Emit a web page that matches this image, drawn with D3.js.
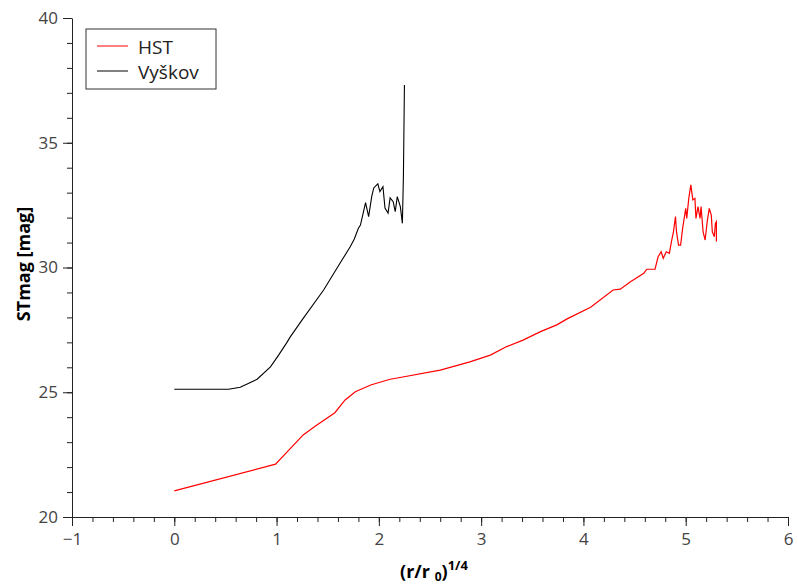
<!DOCTYPE html>
<html lang="en">
<head>
  <meta charset="UTF-8">
  <title>STmag profile</title>
  <script src="https://d3js.org/d3.v7.min.js"></script>
  <style>
    body { margin: 0; background: #fff; }
    .tick text { font-family: "Open Sans", sans-serif; font-size: 17px; fill: #444; }
    .axis path, .axis line { stroke: #222; }
  </style>
</head>
<body>
  <script>
    // data
    var hstX = [0.00, 0.99, 1.26, 1.38, 1.57, 1.67, 1.77, 1.92, 2.11, 2.18, 2.60, 2.89, 3.09, 3.25, 3.41, 3.58, 3.74, 3.84, 4.07, 4.29, 4.36, 4.46, 4.59, 4.62, 4.70, 4.73, 4.76, 4.78, 4.81, 4.84, 4.86, 4.88, 4.90, 4.91, 4.93, 4.95, 4.97, 5.00, 5.01, 5.03, 5.05, 5.07, 5.09, 5.10, 5.12, 5.14, 5.15, 5.17, 5.19, 5.21, 5.23, 5.25, 5.26, 5.28, 5.29, 5.30, 5.30]
    var hstY = [21.05, 22.12, 23.29, 23.65, 24.18, 24.69, 25.02, 25.29, 25.52, 25.57, 25.89, 26.22, 26.49, 26.83, 27.09, 27.43, 27.70, 27.94, 28.41, 29.10, 29.13, 29.43, 29.77, 29.93, 29.93, 30.43, 30.63, 30.37, 30.63, 30.57, 31.03, 31.43, 32.04, 31.43, 30.90, 30.90, 31.57, 32.37, 31.97, 32.77, 33.31, 32.71, 32.77, 31.97, 32.44, 31.97, 32.44, 31.43, 31.10, 31.84, 32.37, 32.10, 31.43, 31.23, 31.77, 31.84, 31.04]

    var vysX = [0.00, 0.53, 0.645, 0.81, 0.94, 1.02, 1.10, 1.134, 1.25, 1.46, 1.62, 1.72, 1.76, 1.80, 1.82, 1.85, 1.87, 1.90, 1.93, 1.95, 1.99, 2.01, 2.04, 2.06, 2.09, 2.11, 2.14, 2.16, 2.18, 2.21, 2.23, 2.24, 2.25]
    var vysY = [25.12, 25.12, 25.20, 25.52, 26.02, 26.49, 26.99, 27.22, 27.90, 29.10, 30.17, 30.83, 31.14, 31.57, 31.70, 32.24, 32.60, 32.04, 32.84, 33.19, 33.35, 33.04, 33.24, 32.38, 32.18, 32.79, 32.64, 32.24, 32.84, 32.44, 31.77, 33.64, 37.31]

    var seriesNames = ["HST", "Vyškov"]
    var seriesColors = ["#ff0000", "#000000"]
    var xTicks = [-1, 0, 1, 2, 3, 4, 5, 6]
    var yTicks = [20, 25, 30, 35, 40]

    var w = 798, h = 587
    var margin = { top: 18, right: 10, bottom: 70, left: 72 }
    var width = w - margin.left - margin.right
    var height = h - margin.top - margin.bottom

    var x = d3.scaleLinear().domain([-1, 6]).range([0, 716])
    var y = d3.scaleLinear().domain([20, 40]).range([height, 0])

    var svg = d3.select("body").append("svg")
      .attr("width", w)
      .attr("height", h)
      .append("g")
      .attr("transform", "translate(" + margin.left + "," + margin.top + ")")

    // minor ticks
    svg.append("g")
      .attr("class", "axis")
      .attr("transform", "translate(0," + height + ")")
      .call(d3.axisBottom(x).tickValues(d3.range(-1, 6.01, 0.2)).tickSize(5).tickFormat(""))
      .select(".domain").remove()
    svg.append("g")
      .attr("class", "axis")
      .call(d3.axisLeft(y).tickValues(d3.range(20, 40.01, 1)).tickSize(5).tickFormat(""))
      .select(".domain").remove()

    // major ticks
    svg.append("g")
      .attr("class", "axis")
      .attr("transform", "translate(0," + height + ")")
      .call(d3.axisBottom(x).tickValues(xTicks).tickSize(9).tickSizeOuter(0).tickPadding(7)
        .tickFormat(function (d) { return d < 0 ? "\u2212" + Math.abs(d) : d }))
    svg.append("g")
      .attr("class", "axis")
      .call(d3.axisLeft(y).tickValues(yTicks).tickSize(9).tickSizeOuter(0).tickPadding(5))

    var line = d3.line()
      .x(function (d) { return x(d[0]) })
      .y(function (d) { return y(d[1]) })

    svg.append("path")
      .datum(hstX.map(function (v, i) { return [v, hstY[i]] }))
      .attr("fill", "none")
      .attr("stroke", seriesColors[0])
      .attr("stroke-width", 1.2)
      .attr("d", line)

    svg.append("path")
      .datum(vysX.map(function (v, i) { return [v, vysY[i]] }))
      .attr("fill", "none")
      .attr("stroke", seriesColors[1])
      .attr("stroke-width", 1.1)
      .attr("d", line)

    // axis labels
    svg.append("text")
      .attr("transform", "translate(-42,246) rotate(-90)")
      .attr("text-anchor", "middle")
      .attr("font-family", "Open Sans, sans-serif")
      .attr("font-weight", "bold")
      .attr("font-size", "18px")
      .text("STmag [mag]")

    var xl = svg.append("text")
      .attr("x", 362)
      .attr("y", height + 61)
      .attr("text-anchor", "middle")
      .attr("font-family", "Open Sans, sans-serif")
      .attr("font-weight", "bold")
      .attr("font-size", "18px")
    xl.append("tspan").text("(r/r ")
    xl.append("tspan").attr("font-size", "12px").attr("dy", 3).text("0")
    xl.append("tspan").attr("dy", -3).text(")")
    xl.append("tspan").attr("font-size", "13px").attr("dy", -8).text("1/4")

    // legend
    var lg = svg.append("g").attr("transform", "translate(14,11)")
    lg.append("rect")
      .attr("width", 130).attr("height", 60)
      .attr("fill", "#fff").attr("stroke", "#333")
    seriesNames.forEach(function (name, i) {
      lg.append("line")
        .attr("x1", 11).attr("x2", 42)
        .attr("y1", 17 + i * 25).attr("y2", 17 + i * 25)
        .attr("stroke", seriesColors[i])
      lg.append("text")
        .attr("x", 52).attr("y", 18 + i * 25)
        .attr("dy", "0.35em")
        .attr("font-family", "Open Sans, sans-serif")
        .attr("font-size", "19px")
        .attr("fill", "#222")
        .text(name)
    })
  </script>
</body>
</html>
